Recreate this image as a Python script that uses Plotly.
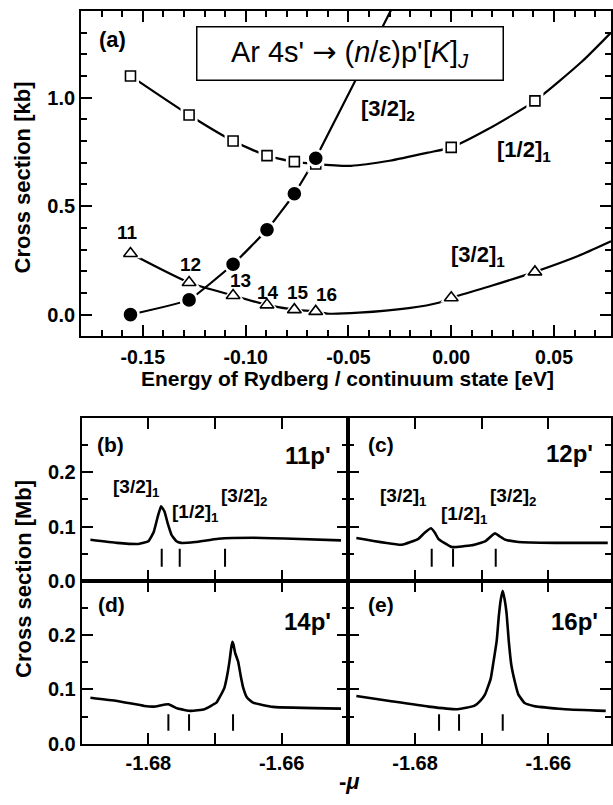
import plotly.graph_objects as go

# ---------------- Panel (a) data ----------------
E_ryd = [-0.156, -0.1275, -0.1061, -0.0896, -0.0763, -0.0659]
n_labels = ['11', '12', '13', '14', '15', '16']
sig_12_1_ryd = [1.10, 0.92, 0.80, 0.733, 0.705, 0.694]
sig_32_1_ryd = [0.282, 0.148, 0.088, 0.045, 0.023, 0.015]
sig_32_2_ryd = [0.0, 0.068, 0.232, 0.391, 0.557, 0.721]
E_cont = [0.0, 0.0407]
sig_12_1_cont = [0.771, 0.985]
sig_32_1_cont = [0.078, 0.197]
# continuum curves
E_curve_12_1 = [-0.0488, -0.030, -0.011, 0.0, 0.0175, 0.0407, 0.0633, 0.0777]
S_curve_12_1 = [0.686, 0.709, 0.747, 0.771, 0.853, 0.985, 1.164, 1.30]
E_curve_32_1 = [-0.0604, -0.0449, -0.0207, -0.0062, 0.0, 0.0196, 0.0407, 0.0617, 0.0777]
S_curve_32_1 = [0.005, 0.009, 0.030, 0.055, 0.078, 0.133, 0.197, 0.27, 0.338]
E_curve_32_2 = [-0.030, -0.024]
S_curve_32_2 = [1.39, 1.50]

# ---------------- Panels (b)-(e) data ----------------
mu_b = [-1.6887, -1.6847, -1.6815, -1.6800, -1.6792, -1.6786, -1.6781, -1.6776, -1.6771,
        -1.6765, -1.6758, -1.6751, -1.673, -1.6695, -1.6643, -1.6584, -1.6511]
sig_b = [0.0756, 0.070, 0.068, 0.073, 0.090, 0.118, 0.137, 0.128, 0.106,
         0.084, 0.073, 0.070, 0.0715, 0.0775, 0.0793, 0.0775, 0.0745]
mu_c = [-1.6888, -1.682, -1.6795, -1.6786, -1.6776, -1.6770, -1.6765, -1.6745, -1.6715,
        -1.6695, -1.6687, -1.668, -1.6673, -1.6665, -1.6645, -1.659, -1.6511]
sig_c = [0.079, 0.0666, 0.0775, 0.088, 0.0967, 0.088, 0.0775, 0.0624, 0.0655,
         0.0727, 0.081, 0.0876, 0.082, 0.0760, 0.0715, 0.070, 0.070]
mu_d = [-1.6887, -1.6847, -1.6806, -1.6792, -1.677, -1.6756, -1.6736, -1.6716, -1.6698,
        -1.66925, -1.6686, -1.66815, -1.6678, -1.66758, -1.6674, -1.66722, -1.6670,
        -1.66653, -1.66615, -1.66577, -1.6652, -1.6643, -1.6613, -1.6511]
sig_d = [0.0847, 0.0787, 0.0696, 0.0684, 0.0727, 0.0647, 0.0605, 0.0636, 0.0756,
         0.087, 0.103, 0.128, 0.155, 0.176, 0.188, 0.182, 0.168,
         0.151, 0.125, 0.103, 0.085, 0.0756, 0.0678, 0.0647]
mu_e = [-1.6888, -1.6838, -1.678, -1.6736, -1.67115, -1.67015, -1.6695, -1.66865,
        -1.66831, -1.66775, -1.66743, -1.66715, -1.66685, -1.66655, -1.66627, -1.66595,
        -1.66556, -1.66505, -1.66452, -1.66356, -1.66222, -1.6575, -1.6514]
sig_e = [0.0878, 0.0787, 0.0684, 0.0636, 0.0696, 0.080, 0.0909, 0.120,
         0.145, 0.190, 0.236, 0.265, 0.282, 0.265, 0.240, 0.190,
         0.145, 0.115, 0.091, 0.075, 0.0696, 0.0636, 0.0605]
res_b = [-1.678, -1.6753, -1.6685]
res_c = [-1.6775, -1.6743, -1.6679]
res_d = [-1.677, -1.6739, -1.6673]
res_e = [-1.6764, -1.6734, -1.66685]
res_mark_b = [0.026, 0.059]
res_mark_d = [0.024, 0.0545]

FONT = "Liberation Sans, Arial, sans-serif"
BLACK = "black"

fig = go.Figure()

def line(x, y, xa, ya, w=2.2, smooth=0.6):
    fig.add_trace(go.Scatter(x=x, y=y, mode="lines", xaxis=xa, yaxis=ya,
                             line=dict(color=BLACK, width=w, shape="spline", smoothing=smooth),
                             hoverinfo="skip", showlegend=False))

# ---- panel (a) lines ----
line(E_ryd + E_curve_12_1, sig_12_1_ryd + S_curve_12_1, "x", "y")
line(E_ryd + E_curve_32_1, sig_32_1_ryd + S_curve_32_1, "x", "y")
line(E_ryd + E_curve_32_2, sig_32_2_ryd + S_curve_32_2, "x", "y", smooth=0.3)

# white halos to produce the gaps round the symbols
def markers(x, y, symbol, size, fill, halo=True):
    if halo:
        fig.add_trace(go.Scatter(x=x, y=y, mode="markers", xaxis="x", yaxis="y",
                                 marker=dict(symbol=symbol, size=size + 7, color="white",
                                             line=dict(width=0)),
                                 hoverinfo="skip", showlegend=False))
    fig.add_trace(go.Scatter(x=x, y=y, mode="markers", xaxis="x", yaxis="y",
                             marker=dict(symbol=symbol, size=size, color=fill,
                                         line=dict(width=1.6, color=BLACK)),
                             hoverinfo="skip", showlegend=False))

markers(E_ryd + E_cont, sig_12_1_ryd + sig_12_1_cont, "square", 10, "white")
markers(E_ryd + E_cont, sig_32_1_ryd + sig_32_1_cont, "triangle-up", 12, "white")
markers(E_ryd, sig_32_2_ryd, "circle", 12, BLACK)

# ---- panels (b)-(e) ----
panels = [
    (mu_b, sig_b, res_b, res_mark_b, "x2", "y2"),
    (mu_c, sig_c, res_c, res_mark_b, "x3", "y3"),
    (mu_d, sig_d, res_d, res_mark_d, "x4", "y4"),
    (mu_e, sig_e, res_e, res_mark_d, "x5", "y5"),
]
for mu, sig, res, mk, xa, ya in panels:
    line(mu, sig, xa, ya, w=2.6, smooth=0.4)
    xs, ys = [], []
    for r in res:
        xs += [r, r, None]
        ys += [mk[0], mk[1], None]
    fig.add_trace(go.Scatter(x=xs, y=ys, mode="lines", xaxis=xa, yaxis=ya,
                             line=dict(color=BLACK, width=2), hoverinfo="skip",
                             showlegend=False))

W, H = 613, 805
def px(xp):
    return xp / W
def py(yp):
    return 1 - yp / H

tickfont = dict(family=FONT, size=20, color=BLACK, weight="bold")
axcommon = dict(showline=True, linecolor=BLACK, linewidth=2, mirror="ticks",
                ticks="inside", tickcolor=BLACK, tickwidth=2, showgrid=False,
                zeroline=False, tickfont=tickfont)

# top panel axes
xa_top = dict(axcommon, domain=[px(81.4), 1.0], range=[-0.18, 0.0777], anchor="y",
              tickvals=[-0.15, -0.10, -0.05, 0.00, 0.05],
              ticktext=["-0.15", "-0.10", "-0.05", "0.00", "0.05"], ticklen=11,
              ticklabelstandoff=2, tickfont=dict(tickfont, size=19.5),
              minor=dict(dtick=0.01, tick0=0, ticklen=6, tickwidth=2, ticks="inside",
                         tickcolor=BLACK, showgrid=False))
ya_top = dict(axcommon, domain=[py(341), py(11)], range=[-0.1, 1.4], anchor="x",
              tickvals=[0.0, 0.5, 1.0], ticktext=["0.0", "0.5", "1.0"], ticklen=11,
              minor=dict(dtick=0.1, tick0=0, ticklen=6, tickwidth=2, ticks="inside",
                         tickcolor=BLACK, showgrid=False))

bx_vals = [-1.69, -1.68, -1.67, -1.66, -1.65]
bx_text = ["", "-1.68", "", "-1.66", ""]
by_vals = [0.0, 0.1, 0.2, 0.3]
by_text = ["0.0", "0.1", "0.2", ""]
yminor = dict(dtick=0.05, tick0=0, ticklen=6, tickwidth=2, ticks="inside",
              tickcolor=BLACK, showgrid=False)

dom_left = [px(82), px(349.5)]
dom_right = [px(349.5), 1.0]
dom_upper = [py(589), py(423.5)]
dom_lower = [py(754), py(589)]
r_left = [-1.69, -1.65]
r_right = [-1.69, -1.69 + (613 - 349.5) / 6690]

def bxa(dom, rng, anchor, labels):
    return dict(axcommon, domain=dom, range=rng, anchor=anchor, tickvals=bx_vals,
                ticktext=bx_text, ticklen=11, showticklabels=labels)

def bya(dom, anchor, labels):
    return dict(axcommon, domain=dom, range=[0, 0.3], anchor=anchor, tickvals=by_vals,
                ticktext=by_text, ticklen=11, showticklabels=labels, minor=yminor)

fig.update_layout(
    width=W, height=H, margin=dict(l=0, r=0, t=0, b=0),
    paper_bgcolor="white", plot_bgcolor="white", showlegend=False,
    font=dict(family=FONT, color=BLACK),
    xaxis=xa_top, yaxis=ya_top,
    xaxis2=bxa(dom_left, r_left, "y2", False), yaxis2=bya(dom_upper, "x2", True),
    xaxis3=bxa(dom_right, r_right, "y3", False), yaxis3=bya(dom_upper, "x3", False),
    xaxis4=bxa(dom_left, r_left, "y4", True), yaxis4=bya(dom_lower, "x4", True),
    xaxis5=bxa(dom_right, r_right, "y5", True), yaxis5=bya(dom_lower, "x5", False),
)

ann = []
def txt(text, x, y, size, xref="x", yref="y", xanchor="center", yanchor="middle", **kw):
    ann.append(dict(text=text, x=x, y=y, xref=xref, yref=yref, showarrow=False,
                    xanchor=xanchor, yanchor=yanchor,
                    font=dict(family=FONT, size=size, color=BLACK, weight="bold"), **kw))

# panel (a) annotations
txt("(a)", -0.1647, 1.27, 22)
txt("[3/2]<sub>2</sub>", -0.0309, 0.945, 22)
txt("[1/2]<sub>1</sub>", 0.0355, 0.752, 22)
txt("[3/2]<sub>1</sub>", 0.0128, 0.268, 22)
n_lab_x = [-0.1574, -0.1269, -0.1026, -0.0890, -0.0745, -0.0605]
n_lab_y = [0.379, 0.233, 0.156, 0.100, 0.100, 0.092]
for t, xx, yy in zip(n_labels, n_lab_x, n_lab_y):
    txt(t, xx, yy, 19)
ann.append(dict(text="Ar 4s' <span style=\"font-family:'DejaVu Sans'\">\u2192</span> "
                     "(<i>n</i>/\u03b5)p'[<i>K</i>]<sub><i>J</i></sub>",
                x=-0.0493, y=1.202, xref="x", yref="y", showarrow=False,
                font=dict(family=FONT, size=29, color=BLACK),
                bgcolor="white", bordercolor=BLACK, borderwidth=1.5, borderpad=2,
                width=301, height=48, align="center", valign="middle"))

# axis titles
txt("Cross section [kb]", px(23), py(180), 22, xref="paper", yref="paper", textangle=-90)
txt("Energy of Rydberg / continuum state [eV]", px(349), py(384), 21,
    xref="paper", yref="paper")
txt("Cross section [Mb]", px(24), py(587), 22, xref="paper", yref="paper", textangle=-90)
txt("-<i>\u03bc</i>", px(351), py(792), 22, xref="paper", yref="paper")

# panel labels (b)-(e)
txt("(b)", -1.68574, 0.250, 21, "x2", "y2")
txt("11p'", -1.65233, 0.230, 24, "x2", "y2", xanchor="right")
txt("[3/2]<sub>1</sub>", -1.68178, 0.170, 19, "x2", "y2")
txt("[1/2]<sub>1</sub>", -1.67296, 0.125, 19, "x2", "y2")
txt("[3/2]<sub>2</sub>", -1.66564, 0.154, 19, "x2", "y2")
txt("(c)", -1.68514, 0.250, 21, "x3", "y3")
txt("12p'", -1.65305, 0.234, 24, "x3", "y3", xanchor="right")
txt("[3/2]<sub>1</sub>", -1.6817, 0.154, 19, "x3", "y3")
txt("[1/2]<sub>1</sub>", -1.67259, 0.121, 19, "x3", "y3")
txt("[3/2]<sub>2</sub>", -1.66526, 0.154, 19, "x3", "y3")
txt("(d)", -1.68552, 0.256, 21, "x4", "y4")
txt("14p'", -1.65233, 0.225, 24, "x4", "y4", xanchor="right")
txt("(e)", -1.68514, 0.256, 21, "x5", "y5")
txt("16p'", -1.65226, 0.225, 24, "x5", "y5", xanchor="right")

fig.update_layout(annotations=ann)
fig.write_html("out.html", config={"displayModeBar": False},
               post_script="document.body.style.margin='0';document.body.style.overflow='hidden';")
